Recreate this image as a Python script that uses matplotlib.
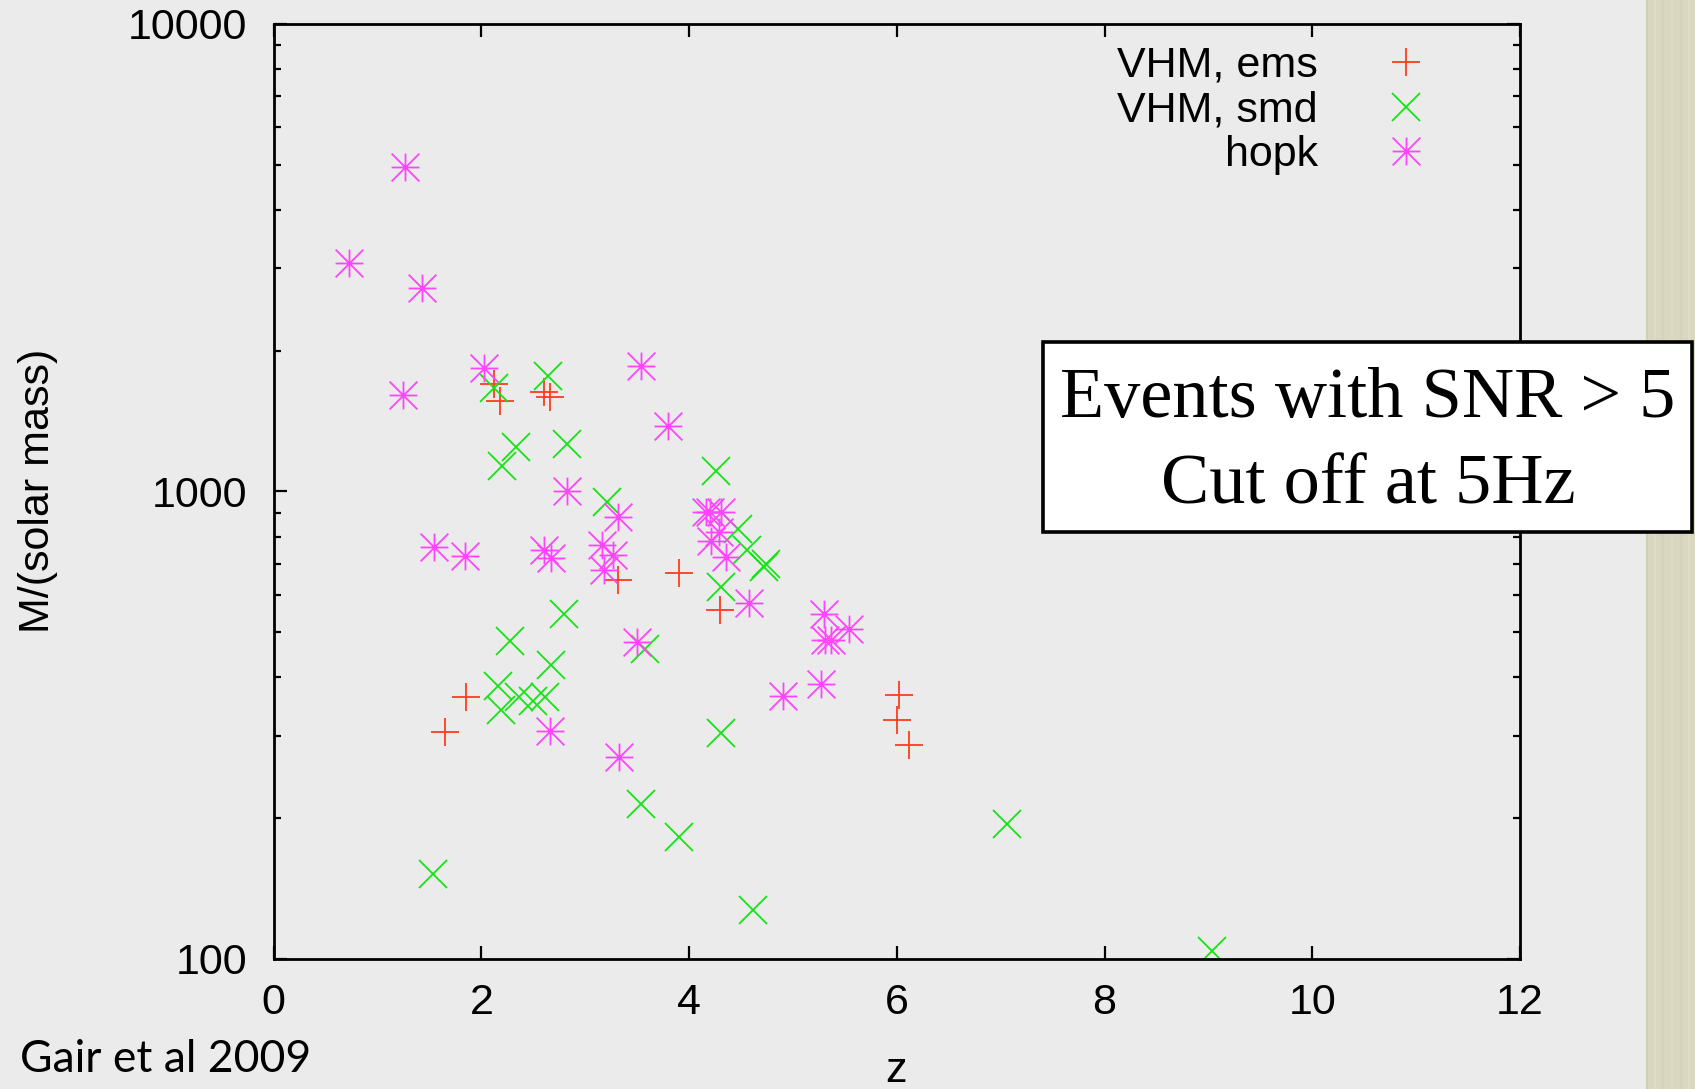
import matplotlib
matplotlib.use("Agg")
import matplotlib.pyplot as plt
from matplotlib.path import Path
from matplotlib.patches import Rectangle
from matplotlib.ticker import FixedLocator, FixedFormatter, LogLocator, NullFormatter

# redshift / total mass of detected events, one pair of lists per model
ems_z = [2.12, 2.18, 2.60, 2.66, 3.32, 3.90, 4.30, 1.85, 1.65, 6.02, 6.00, 6.12]
ems_m = [1700, 1560, 1630, 1590, 646, 670, 557, 364, 306, 366, 324, 287]

smd_z = [2.12, 2.64, 2.33, 2.20, 2.82, 4.26, 3.21, 4.47, 4.56, 4.72, 4.74, 4.31,
         2.80, 2.28, 2.67, 3.58, 2.16, 2.19, 2.36, 2.50, 2.61, 4.31, 3.54, 3.90,
         4.62, 7.06, 9.03, 1.53]
smd_m = [1661, 1765, 1242, 1134, 1262, 1107, 950, 829, 749, 690, 698, 625,
         548, 479, 426, 459, 384, 340, 364, 356, 364, 304, 214, 182,
         127, 194, 104, 152]

hopk_z = [1.27, 0.73, 1.43, 2.03, 1.25, 3.54, 3.80, 2.82, 3.32, 1.54, 1.84, 2.60,
          2.67, 3.16, 3.27, 3.18, 4.16, 4.20, 4.31, 4.29, 4.21, 4.36, 4.58, 5.30,
          5.54, 5.31, 5.37, 5.27, 4.90, 3.50, 2.66, 3.33]
hopk_m = [4950, 3075, 2720, 1833, 1607, 1857, 1380, 1001, 880, 761, 727, 751,
          719, 767, 731, 679, 904, 904, 904, 820, 783, 724, 578, 548,
          507, 482, 482, 387, 365, 477, 307, 270]

series_labels = ["VHM, ems", "VHM, smd", "hopk"]
x_ticks = [0, 2, 4, 6, 8, 10, 12]
y_ticks = [100, 1000, 10000]
y_tick_labels = ["100", "1000", "10000"]

bg = "#ebebeb"
sans = ["Liberation Sans", "DejaVu Sans"]

# gnuplot-style asterisk: a plus and a cross on top of each other
asterisk = Path(
    [(-0.5, 0), (0.5, 0), (0, -0.5), (0, 0.5),
     (-0.5, -0.5), (0.5, 0.5), (-0.5, 0.5), (0.5, -0.5)],
    [Path.MOVETO, Path.LINETO] * 4,
)

fig = plt.figure(figsize=(16.95, 10.89), dpi=100, facecolor=bg)
ax = fig.add_axes([0.1614, 0.1194, 0.7354, 0.8588], facecolor=bg)

ms, mew = 20, 1.3
ax.plot(ems_z, ems_m, ls="none", marker="+", ms=ms, mew=mew,
        color="#ff3c1c", label=series_labels[0])
ax.plot(smd_z, smd_m, ls="none", marker="x", ms=ms, mew=mew,
        color="#14e414", label=series_labels[1])
ax.plot(hopk_z, hopk_m, ls="none", marker=asterisk, ms=ms, mew=mew,
        color="#ff44ff", mfc="none", label=series_labels[2])

ax.set_xlim(0, 12)
ax.set_yscale("log")
ax.set_ylim(100, 10000)

ax.xaxis.set_major_locator(FixedLocator(x_ticks))
ax.set_xticklabels([str(t) for t in x_ticks])
ax.yaxis.set_major_locator(FixedLocator(y_ticks))
ax.yaxis.set_major_formatter(FixedFormatter(y_tick_labels))
ax.yaxis.set_minor_locator(LogLocator(base=10, subs=range(2, 10)))
ax.yaxis.set_minor_formatter(NullFormatter())

for s in ax.spines.values():
    s.set_linewidth(2.0)
    s.set_color("black")

ax.tick_params(which="both", direction="in", top=True, right=True, width=1.6, color="black")
ax.tick_params(which="major", length=9.5, labelsize=31)
ax.tick_params(which="minor", length=5)
ax.tick_params(axis="y", which="major", pad=19)
ax.tick_params(axis="x", which="major", pad=17)
for lab in ax.get_xticklabels() + ax.get_yticklabels():
    lab.set_family(sans)

fig.text(38 / 1695, 1 - 491 / 1089, "M/(solar mass)", rotation=90,
         ha="center", va="center", fontsize=31, family=sans)
fig.text(896 / 1695, 1 - 1082 / 1089, "z", ha="center", va="baseline",
         fontsize=31, family=sans)
fig.text(20 / 1695, 1 - 1060 / 1089, "Gair et al 2009", ha="left", va="center",
         fontsize=32, family=["Lato", "DejaVu Sans"])

leg = ax.legend(loc="upper right", bbox_to_anchor=(1449 / 1695, 1 - 46 / 1089),
                bbox_transform=fig.transFigure, frameon=False, markerfirst=False,
                handlelength=2.0, handletextpad=1.05,
                labelspacing=0.11, borderpad=0, borderaxespad=0,
                prop={"family": sans, "size": 31})

# textured paper strip on the right edge
fig.add_artist(Rectangle((1646 / 1695, 0), 49 / 1695, 1, transform=fig.transFigure,
                         facecolor="#dad7c0", edgecolor="none", zorder=1))
for xs, c in [(1647, "#cdcab2"), (1655, "#e2dfcb"), (1663, "#d3d0b8"),
              (1672, "#e0ddc8"), (1681, "#d2cfb6"), (1689, "#e3e0cc")]:
    fig.add_artist(plt.Line2D([xs / 1695, xs / 1695], [0, 1], transform=fig.transFigure,
                              color=c, lw=1.5, alpha=0.6, zorder=1))

# annotation box
fig.add_artist(Rectangle((1043 / 1695, 1 - 532 / 1089), 649 / 1695, 190 / 1089,
                         transform=fig.transFigure, facecolor="white",
                         edgecolor="black", lw=2.6, zorder=5))
serif = ["Liberation Serif", "DejaVu Serif"]
fig.text(1368 / 1695, 1 - 400 / 1089, "Events with SNR > 5", ha="center", va="center",
         fontsize=52, family=serif, zorder=6)
fig.text(1368 / 1695, 1 - 486 / 1089, "Cut off at 5Hz", ha="center", va="center",
         fontsize=52, family=serif, zorder=6)

fig.savefig("out.png", dpi=100, facecolor=bg)
